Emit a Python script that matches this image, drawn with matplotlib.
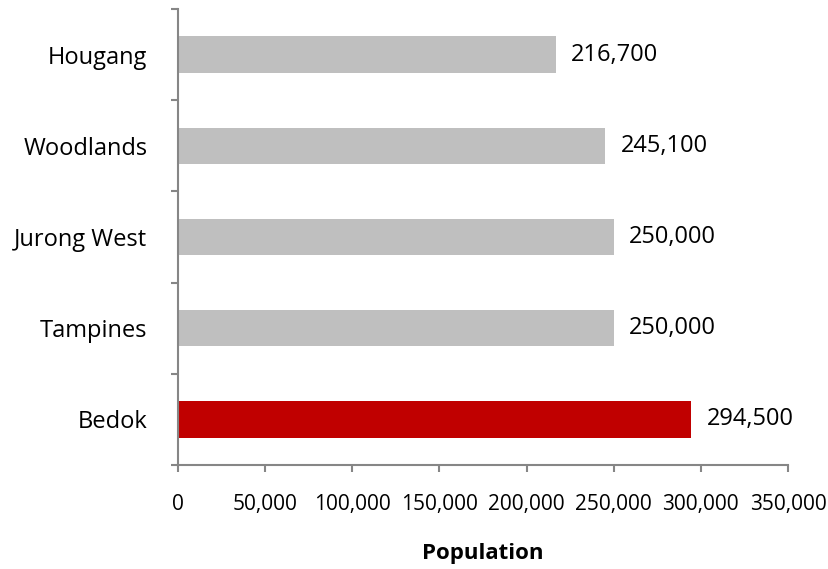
import matplotlib
matplotlib.use("Agg")
import matplotlib.pyplot as plt
from matplotlib.ticker import FuncFormatter, FixedLocator

plt.rcParams['font.family'] = ['Open Sans', 'DejaVu Sans']

towns = ["Bedok", "Tampines", "Jurong West", "Woodlands", "Hougang"]
population = [294500, 250000, 250000, 245100, 216700]
bar_colors = ["#C00000", "#BFBFBF", "#BFBFBF", "#BFBFBF", "#BFBFBF"]
x_ticks = [0, 50000, 100000, 150000, 200000, 250000, 300000, 350000]

fig = plt.figure(figsize=(8.29, 5.69), dpi=100)
ax = fig.add_axes([0.2147, 0.1828, 0.7358, 0.8014])

pos = list(range(len(towns)))
ax.barh(pos, population, height=0.4, color=bar_colors)

for y, v in zip(pos, population):
    ax.annotate(f"{v:,}", xy=(v, y), xytext=(11, 0), textcoords="offset points",
                va="center", ha="left", fontsize=17, color="black")

ax.set_xlim(0, 350000)
ax.set_ylim(-0.5, len(towns) - 0.5)
ax.set_xticks(x_ticks)
ax.xaxis.set_major_formatter(FuncFormatter(lambda v, p: f"{int(v):,}"))

ax.set_yticks(pos)
ax.set_yticklabels(towns)
ax.yaxis.set_minor_locator(FixedLocator([i - 0.5 for i in range(len(towns) + 1)]))
ax.tick_params(axis="y", which="major", length=0, pad=22, labelsize=17)
ax.tick_params(axis="y", which="minor", length=5, width=1.5, color="#868686", direction="out")
ax.tick_params(axis="x", which="major", length=5, width=1.5, color="#868686",
               direction="out", pad=16, labelsize=15)

for side in ("top", "right"):
    ax.spines[side].set_visible(False)
for side in ("left", "bottom"):
    ax.spines[side].set_color("#868686")
    ax.spines[side].set_linewidth(1.5)

ax.set_xlabel("Population", fontsize=16, fontweight="bold", labelpad=20)

fig.savefig("out.png", dpi=100)
